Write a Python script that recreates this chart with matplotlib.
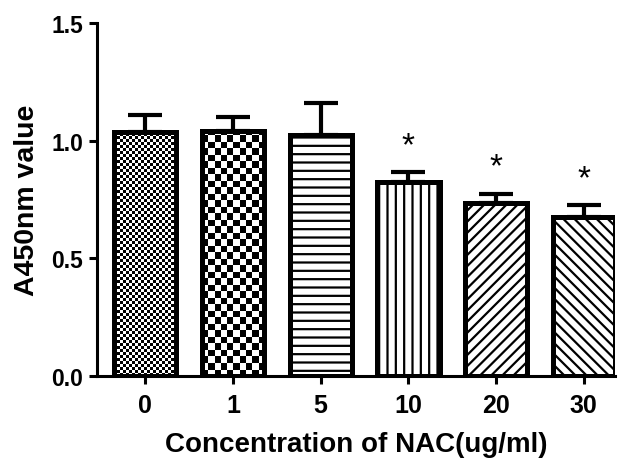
import numpy as np
import matplotlib
matplotlib.use("Agg")
import matplotlib.pyplot as plt

plt.rcParams['font.family'] = ['Liberation Sans', 'DejaVu Sans']
plt.rcParams['font.weight'] = 'bold'
plt.rcParams['hatch.linewidth'] = 1.6

labels = ['0', '1', '5', '10', '20', '30']
means = [1.035, 1.04, 1.025, 0.825, 0.735, 0.675]
errs = [0.075, 0.06, 0.135, 0.04, 0.04, 0.05]
signif = [False, False, False, True, True, True]
hatches = [None, None, '--', '||', '///', '\\\\\\']
checker_px = [3.0, 6.5, None, None, None, None]

W, H = 626, 460
fig = plt.figure(figsize=(W / 100, H / 100), dpi=100)
ax = fig.add_axes([97 / W, (460 - 377) / H, (615 - 97) / W, (377 - 24) / H])

x = np.arange(len(labels))
bw = 0.71
xlim = (-0.55, len(labels) - 1 + bw / 2)
ylim = (0, 1.5)

# error bars first so the bar outline sits over their base
ax.errorbar(x, means, yerr=[np.zeros(len(errs)), errs], fmt='none', ecolor='black',
            elinewidth=3, capsize=12, capthick=3, zorder=1.5)

fill = ax.bar(x, means, bw, color='white', edgecolor='black', linewidth=0, zorder=2)
for b, h in zip(fill, hatches):
    if h:
        b.set_hatch(h)

# checkerboard textures
px_per_x = (615 - 97) / (xlim[1] - xlim[0])
px_per_y = (377 - 24) / (ylim[1] - ylim[0])
for b, cp in zip(fill, checker_px):
    if cp is None:
        continue
    x0 = b.get_x()
    w = b.get_width()
    h = b.get_height()
    nx = int(round(w * px_per_x / cp))
    ny = int(np.ceil(h * px_per_y / cp))
    ii, jj = np.indices((ny, nx))
    arr = (ii + jj) % 2
    im = ax.imshow(arr, extent=[x0, x0 + w, 0, ny * cp / px_per_y], origin='lower',
                   cmap='gray', vmin=0, vmax=1, interpolation='nearest',
                   aspect='auto', zorder=2.1)
    im.set_clip_path(b)

ax.bar(x, means, bw, fill=False, edgecolor='black', linewidth=3.6, zorder=3)

for xi, m, e, s in zip(x, means, errs, signif):
    if s:
        ax.text(xi, m + e + 0.115, '*', ha='center', va='center', fontsize=24,
                fontweight='normal')

ax.set_xlim(*xlim)
ax.set_ylim(*ylim)
ax.set_xticks(x)
ax.set_xticklabels(labels)
ax.set_yticks([0, 0.5, 1.0, 1.5])
ax.set_yticklabels(['0.0', '0.5', '1.0', '1.5'])

for s in ['top', 'right']:
    ax.spines[s].set_visible(False)
for s in ['left', 'bottom']:
    ax.spines[s].set_linewidth(2.2)
ax.tick_params(direction='out', length=6, width=2.2, labelsize=16.5, pad=4)
ax.tick_params(axis='x', pad=6, labelsize=18)

ax.set_xlabel('Concentration of NAC(ug/ml)', fontsize=20, fontweight='bold', labelpad=10)
ax.set_ylabel('A450nm value', fontsize=20.5, fontweight='bold', labelpad=8)

fig.savefig('out.png', dpi=100)
